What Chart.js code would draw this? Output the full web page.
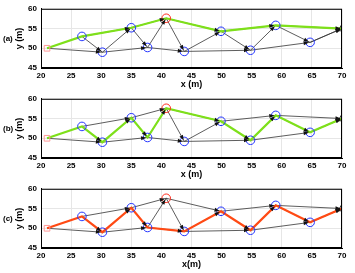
<!DOCTYPE html>
<html>
<head>
<meta charset="utf-8">
<script src="https://cdn.jsdelivr.net/npm/chart.js@4"></script>
<style>
body { margin: 0; background: #fff; width: 355px; height: 273px; overflow: hidden; }
.box { position: absolute; left: 0; width: 355px; }
</style>
</head>
<body>
<div class="box" style="top:0;height:90px"><canvas id="chartA"></canvas></div>
<div class="box" style="top:90px;height:90px"><canvas id="chartB"></canvas></div>
<div class="box" style="top:180px;height:93px"><canvas id="chartC"></canvas></div>
<script>
// node positions (m)
const nodeX = [21, 26.8, 30.2, 35, 37.7, 40.8, 43.8, 49.9, 54.8, 59, 64.7, 70];
const nodeY = [50, 53, 49, 55.2, 50.2, 57.6, 49.2, 54.3, 49.5, 55.8, 51.5, 55];

// black arrow paths (node indices)
const lowerPath = [0, 2, 4, 6, 8, 10, 11];
const upperPath = [1, 3, 5, 7, 9, 11];
const zigzagPath = [1, 2, 3, 4, 5, 6, 7, 8, 9, 10, 11];

// chosen routes
const routeA = [0, 1, 3, 5, 7, 9, 11];
const routeB = [0, 1, 2, 3, 4, 5, 7, 8, 9, 10, 11];
const routeC = [0, 1, 2, 3, 4, 6, 7, 8, 9, 10, 11];

const pt = i => ({ x: nodeX[i], y: nodeY[i] });

function edgesOf(path) {
    const out = [];
    for (let k = 0; k < path.length - 1; k++) out.push([path[k], path[k + 1]]);
    return out;
}
const allEdges = [...edgesOf(lowerPath), ...edgesOf(upperPath), ...edgesOf(zigzagPath)];

// arrow heads + box around the plot
const arrowPlugin = {
    id: 'arrows',
    afterDatasetsDraw(chart) {
        const ctx = chart.ctx;
        chart.data.datasets.forEach((ds, i) => {
            if (!ds.arrow) return;
            const m = chart.getDatasetMeta(i).data;
            const a = m[0], b = m[1];
            const ang = Math.atan2(b.y - a.y, b.x - a.x);
            const tx = b.x - Math.cos(ang) * 1.5, ty = b.y - Math.sin(ang) * 1.5;
            const L = 5, W = 2;
            ctx.save();
            ctx.fillStyle = '#111';
            ctx.beginPath();
            ctx.moveTo(tx, ty);
            ctx.lineTo(tx - L * Math.cos(ang) + W * Math.sin(ang), ty - L * Math.sin(ang) - W * Math.cos(ang));
            ctx.lineTo(tx - L * Math.cos(ang) - W * Math.sin(ang), ty - L * Math.sin(ang) + W * Math.cos(ang));
            ctx.closePath();
            ctx.fill();
            ctx.restore();
        });
    },
    afterDraw(chart) {
        const { ctx, chartArea: c } = chart;
        ctx.save();
        ctx.strokeStyle = '#000';
        ctx.lineWidth = 1;
        ctx.strokeRect(c.left + 0.5, c.top + 0.5, c.right - c.left - 1, c.bottom - c.top - 1);
        ctx.font = 'bold 8px "Liberation Sans", Arial, sans-serif';
        ctx.fillStyle = '#000';
        ctx.textBaseline = 'middle';
        ctx.fillText(chart.options.plugins.panel, 3, (c.top + c.bottom) / 2);
        ctx.restore();
    }
};

function makeChart(id, route, color, panel, xTitle, height, titlePad) {
    const datasets = [];
    allEdges.forEach(e => datasets.push({
        data: [pt(e[0]), pt(e[1])],
        borderColor: '#333', borderWidth: 0.8, pointRadius: 0,
        arrow: true, order: 3
    }));
    datasets.push({
        data: route.map(pt),
        borderColor: color, borderWidth: 2.2, pointRadius: 0, order: 2
    });
    datasets.push({
        data: [1, 2, 3, 4, 6, 7, 8, 9, 10].map(pt),
        showLine: false, pointStyle: 'circle', pointRadius: 4.3,
        borderColor: '#2233ff', borderWidth: 1, backgroundColor: 'rgba(0,0,0,0)', order: 1
    });
    datasets.push({
        data: [pt(5)],
        showLine: false, pointStyle: 'circle', pointRadius: 4.3,
        borderColor: '#ff2a1a', borderWidth: 1, backgroundColor: 'rgba(0,0,0,0)', order: 1
    });
    datasets.push({
        data: [pt(0)],
        showLine: false, pointStyle: 'rect', pointRadius: 4,
        borderColor: '#ff9a9a', borderWidth: 1, backgroundColor: 'rgba(0,0,0,0)', order: 1
    });
    datasets.push({
        data: [pt(11)],
        showLine: false, pointStyle: 'triangle', pointRadius: 4.5,
        borderColor: '#000', borderWidth: 0.8, backgroundColor: 'rgba(0,0,0,0)', order: 1
    });

    const tickFont = { family: '"Liberation Sans", Arial, sans-serif', size: 8, weight: 'bold' };
    new Chart(document.getElementById(id), {
        type: 'line',
        data: { datasets },
        plugins: [arrowPlugin],
        options: {
            responsive: true,
            maintainAspectRatio: false,
            animation: false,
            layout: { padding: { top: 6, right: 13, left: 0, bottom: 0 } },
            plugins: { legend: { display: false }, tooltip: { enabled: false }, panel },
            scales: {
                x: {
                    type: 'linear', min: 20, max: 70,
                    ticks: { stepSize: 5, color: '#000', font: tickFont, padding: 3, maxRotation: 0 },
                    grid: { color: '#e6e6e6', drawTicks: false },
                    border: { color: '#000' },
                    title: { display: true, text: xTitle, color: '#000', font: { ...tickFont, size: 9 }, padding: { top: 0, bottom: titlePad } },
                    afterFit(s) { s.height = height - 68; }
                },
                y: {
                    min: 45, max: 60,
                    ticks: { stepSize: 5, color: '#000', font: tickFont, padding: 4 },
                    grid: { color: '#e6e6e6', drawTicks: false },
                    border: { color: '#000' },
                    title: { display: true, text: 'y (m)', color: '#000', font: { ...tickFont, size: 9 }, padding: { top: 14, bottom: 0 } },
                    afterFit(s) { s.width = 41; }
                }
            }
        }
    });
}

makeChart('chartA', routeA, '#7ee01a', '(a)', 'x (m)', 90, 0);
makeChart('chartB', routeB, '#7ee01a', '(b)', 'x (m)', 90, 0);
makeChart('chartC', routeC, '#ff4a14', '(c)', 'x(m)', 93, 3.5);
</script>
</body>
</html>
